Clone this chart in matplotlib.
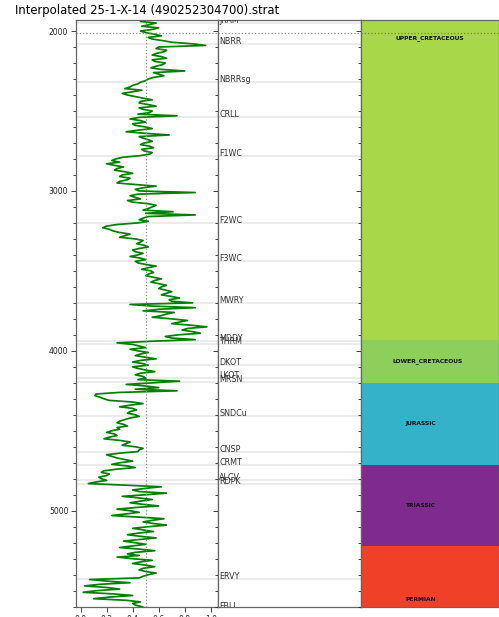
import numpy as np
import matplotlib
matplotlib.use("Agg")
import matplotlib.pyplot as plt
from matplotlib.ticker import MultipleLocator

# log curve, sampled every 10 ft from 1930 to 5610
depth = np.arange(1930, 5611, 10)
curve = [
    0.52, 0.46, 0.58, 0.53, 0.47, 0.60, 0.55, 0.46, 0.50, 0.57, 0.62, 0.52, 0.55, 0.63, 0.70, 0.86, 0.96, 0.60, 0.58, 0.66,
    0.64, 0.58, 0.55, 0.62, 0.66, 0.55, 0.57, 0.65, 0.63, 0.58, 0.54, 0.62, 0.80, 0.56, 0.60, 0.64, 0.56, 0.52, 0.50, 0.46,
    0.44, 0.40, 0.38, 0.34, 0.47, 0.40, 0.32, 0.36, 0.42, 0.48, 0.55, 0.46, 0.45, 0.52, 0.58, 0.45, 0.48, 0.55, 0.53, 0.44,
    0.74, 0.45, 0.38, 0.46, 0.50, 0.40, 0.42, 0.50, 0.55, 0.44, 0.35, 0.50, 0.68, 0.45, 0.48, 0.52, 0.55, 0.49, 0.46, 0.53,
    0.56, 0.47, 0.49, 0.55, 0.53, 0.45, 0.32, 0.27, 0.24, 0.30, 0.20, 0.26, 0.33, 0.28, 0.26, 0.34, 0.40, 0.32, 0.30, 0.38,
    0.36, 0.30, 0.28, 0.42, 0.58, 0.48, 0.42, 0.45, 0.88, 0.44, 0.38, 0.42, 0.46, 0.36, 0.40, 0.52, 0.58, 0.55, 0.52, 0.48,
    0.71, 0.50, 0.88, 0.52, 0.48, 0.45, 0.52, 0.44, 0.28, 0.20, 0.17, 0.22, 0.25, 0.30, 0.38, 0.34, 0.30, 0.42, 0.48, 0.46,
    0.43, 0.49, 0.52, 0.45, 0.40, 0.42, 0.48, 0.44, 0.38, 0.46, 0.50, 0.42, 0.44, 0.50, 0.58, 0.52, 0.47, 0.54, 0.56, 0.52,
    0.50, 0.56, 0.62, 0.57, 0.54, 0.60, 0.66, 0.62, 0.60, 0.65, 0.70, 0.66, 0.62, 0.70, 0.76, 0.68, 0.70, 0.86, 0.38, 0.55,
    0.88, 0.60, 0.48, 0.72, 0.66, 0.62, 0.55, 0.70, 0.82, 0.76, 0.70, 0.85, 0.97, 0.82, 0.78, 0.86, 0.92, 0.75, 0.65, 0.70,
    0.88, 0.55, 0.28, 0.40, 0.45, 0.50, 0.38, 0.44, 0.52, 0.46, 0.42, 0.50, 0.58, 0.46, 0.40, 0.48, 0.52, 0.40, 0.44, 0.50,
    0.57, 0.46, 0.42, 0.48, 0.50, 0.44, 0.76, 0.55, 0.35, 0.50, 0.60, 0.42, 0.74, 0.30, 0.12, 0.11, 0.15, 0.18, 0.22, 0.40,
    0.48, 0.38, 0.30, 0.40, 0.43, 0.38, 0.36, 0.42, 0.45, 0.38, 0.34, 0.30, 0.28, 0.33, 0.36, 0.28, 0.30, 0.24, 0.20, 0.26,
    0.28, 0.22, 0.18, 0.30, 0.38, 0.35, 0.32, 0.42, 0.48, 0.45, 0.44, 0.30, 0.20, 0.24, 0.28, 0.34, 0.40, 0.30, 0.24, 0.36,
    0.42, 0.28, 0.18, 0.16, 0.22, 0.20, 0.14, 0.16, 0.20, 0.12, 0.06, 0.35, 0.62, 0.50, 0.40, 0.45, 0.66, 0.50, 0.32, 0.45,
    0.55, 0.46, 0.38, 0.48, 0.60, 0.42, 0.28, 0.38, 0.45, 0.35, 0.24, 0.45, 0.64, 0.55, 0.48, 0.56, 0.66, 0.52, 0.40, 0.48,
    0.56, 0.44, 0.36, 0.46, 0.58, 0.45, 0.33, 0.42, 0.50, 0.40, 0.30, 0.45, 0.57, 0.42, 0.36, 0.45, 0.28, 0.40, 0.55, 0.46,
    0.40, 0.50, 0.57, 0.48, 0.45, 0.50, 0.58, 0.52, 0.48, 0.45, 0.07, 0.20, 0.38, 0.15, 0.03, 0.20, 0.30, 0.12, 0.02, 0.25,
    0.40, 0.22, 0.10, 0.35, 0.46, 0.40, 0.42, 0.47, 0.50,
]

# formation tops (ft)
tops = ["JRAM", "NBRR", "NBRRsg", "CRLL", "F1WC", "F2WC", "F3WC", "MWRY",
        "MDDY", "THRM", "DKOT", "LKOT", "MRSN", "SNDCu", "CNSP", "CRMT",
        "ALCV", "RDPK", "ERVY", "FBLL"]
top_depths = [1950, 2081, 2319, 2538, 2781, 3198, 3436, 3700,
              3937, 3956, 4087, 4167, 4196, 4410, 4631, 4712,
              4810, 4831, 5425, 5615]

# chronostratigraphy
ages = ["UPPER_CRETACEOUS", "LOWER_CRETACEOUS", "JURASSIC", "TRIASSIC", "PERMIAN"]
age_top = [157, 3931, 4200, 4712, 5219]
age_base = [3931, 4200, 4712, 5219, 5893]
age_colors = ["#a8d84a", "#8ece5a", "#33b2ca", "#7f2a8e", "#f04028"]

cutoff = 0.5
marker_depth = 2012
title = "Interpolated 25-1-X-14 (490252304700).strat"

ymin, ymax = 1931, 5602

fig = plt.figure(figsize=(4.99, 6.17), dpi=100)
b, h = 10 / 617, 587 / 617
ax_log = fig.add_axes([76 / 499, b, 142 / 499, h])
ax_top = fig.add_axes([218 / 499, b, 143 / 499, h])
ax_age = fig.add_axes([361 / 499, b, 138 / 499, h])

for ax in (ax_log, ax_top, ax_age):
    ax.set_ylim(ymax, ymin)
    for s in ax.spines.values():
        s.set_color("#666666")
        s.set_linewidth(0.9)
    ax.yaxis.set_major_locator(MultipleLocator(1000))
    ax.yaxis.set_minor_locator(MultipleLocator(100))
    ax.tick_params(axis="both", which="major", length=3.5, width=0.6,
                   labelsize=5.5, pad=2, colors="#222222")
    ax.tick_params(axis="y", which="minor", length=2.2, width=0.6, colors="#222222")

# log track
for d in top_depths:
    ax_log.axhline(d, color="#e8e8e8", lw=1.2, zorder=0)
ax_log.plot(curve, depth, color="green", lw=1.25, zorder=2)
ax_log.axvline(cutoff, color="#888888", ls=":", lw=0.9, zorder=3)
ax_log.axhline(marker_depth, color="#888888", ls=":", lw=0.9, zorder=3)
ax_log.set_xlim(-0.035, 1.055)
ax_log.set_xticks(np.arange(0, 1.01, 0.2))
ax_log.set_title(title, fontsize=8.4, pad=4)

# formation tops track
ax_top.set_xlim(0, 1)
ax_top.set_xticks([])
ax_top.tick_params(axis="y", which="both", labelleft=False)
for name, d in zip(tops, top_depths):
    ax_top.axhline(d, color="#e8e8e8", lw=1.2, zorder=0)
    ax_top.text(0.01, d, name, fontsize=5.8, color="#333333", va="baseline",
                ha="left", clip_on=True)
ax_top.axhline(marker_depth, color="#888888", ls=":", lw=0.9, zorder=3)

# age track
age_label_x = [0.5, 0.485, 0.43, 0.435, 0.43]
ax_age.set_xlim(0, 1)
ax_age.set_xticks([])
ax_age.tick_params(axis="y", which="both", labelleft=False)
for name, t, bse, c, lx in zip(ages, age_top, age_base, age_colors, age_label_x):
    ax_age.axhspan(t, bse, color=c, lw=0)
    ax_age.text(lx, (t + bse) / 2, name, fontsize=4.3, fontweight="bold",
                color="#111111", ha="center", va="center", clip_on=True)
ax_age.axhline(marker_depth, color="#777777", ls=":", lw=0.9, zorder=3)

fig.savefig("out.png", dpi=100)
